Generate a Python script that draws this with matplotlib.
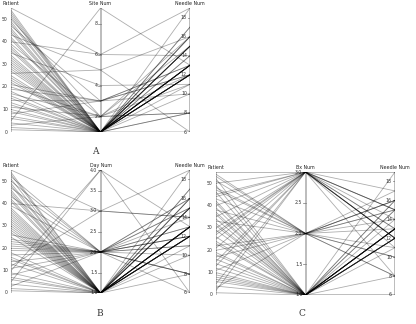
import matplotlib.pyplot as plt

# patient level values
patient = [1, 2, 3, 4, 5, 6, 7, 8, 9, 10, 11, 12, 13, 14, 15, 16, 17, 18, 19, 20,
           21, 22, 23, 24, 25, 26, 27, 28, 29, 30, 31, 32, 33, 34, 35, 36, 37, 38, 39, 40,
           41, 42, 43, 44, 45, 46, 47, 48, 49, 50, 51, 52, 53, 54, 55]
site_num = [1, 1, 2, 1, 9, 1, 1, 3, 1, 1, 2, 1, 1, 3, 1, 1, 2, 1, 3, 2,
            3, 1, 1, 1, 1, 5, 1, 1, 1, 1, 1, 1, 1, 1, 4, 1, 1, 1, 2, 6,
            1, 1, 5, 1, 1, 1, 3, 1, 1, 2, 1, 1, 1, 1, 6]
day_num = [1, 1, 2, 1, 4, 1, 1, 2, 1, 4, 2, 3, 1, 2, 1, 1, 2, 1, 2, 2,
           2, 2, 2, 2, 1, 2, 1, 1, 1, 1, 1, 1, 1, 1, 1, 1, 1, 1, 2, 3,
           1, 1, 2, 1, 1, 1, 2, 1, 1, 2, 1, 2, 1, 1, 3]
bx_num = [1, 3, 2, 1, 3, 1, 1, 1, 1, 1, 2, 1, 3, 1, 3, 1, 2, 1, 1, 2,
          3, 2, 1, 1, 3, 1, 3, 3, 1, 3, 1, 1, 2, 1, 3, 1, 1, 2, 1, 3,
          1, 1, 2, 3, 3, 1, 2, 2, 1, 3, 2, 1, 2, 2, 3]
needle_num = [13, 12, 15, 13, 13, 12, 16, 12, 13, 6, 8, 14, 12, 13, 15, 13, 11, 12, 13, 16,
              12, 14, 8, 15, 12, 6, 13, 17, 12, 15, 13, 16, 10, 12, 11, 13, 15, 8, 12, 14,
              19, 13, 16, 12, 15, 13, 10, 16, 12, 8, 15, 11, 17, 13, 19]

patient_ticks = [0, 10, 20, 30, 40, 50]
site_ticks = [2, 4, 6, 8]
day_ticks = [1.0, 1.5, 2.0, 2.5, 3.0, 3.5, 4.0]
bx_ticks = [1.0, 1.5, 2.0, 2.5, 3.0]
needle_ticks = [6, 8, 10, 12, 14, 16, 18]

fig = plt.figure(figsize=(4.16, 3.24), dpi=100)


def panel(rect, cols, ranges, ticks, names, fmts, letter, letter_xy):
    ax = fig.add_axes(rect)
    ax.set_xlim(0, 2)
    ax.set_ylim(0, 1)
    ax.axis('off')
    norm = []
    for c, (lo, hi) in zip(cols, ranges):
        norm.append([(v - lo) / (hi - lo) for v in c])
    for i in range(len(cols[0])):
        ax.plot([0, 1, 2], [norm[0][i], norm[1][i], norm[2][i]],
                color='black', alpha=0.32, lw=0.6, zorder=3)
    for j in range(3):
        lo, hi = ranges[j]
        ax.plot([j, j], [0, 1], color='#b0b0b0', lw=1.2, zorder=1)
        for t in ticks[j]:
            y = (t - lo) / (hi - lo)
            ax.plot([j - 0.025, j], [y, y], color='#777777', lw=0.5, zorder=1)
            ax.text(j - 0.035, y, fmts[j] % t, ha='right', va='center',
                    fontsize=3.3, color='#333333', zorder=2)
        ax.text(j, 1.015, names[j], ha='center', va='bottom', fontsize=3.4,
                color='#222222')
    fig.text(letter_xy[0] / 416, 1 - letter_xy[1] / 324, letter,
             fontsize=6.5, family='DejaVu Serif', ha='center', va='center',
             color='#333333')


panel([11 / 416, 1 - 132 / 324, 179 / 416, 124 / 324],
      [patient, site_num, needle_num], [(0, 55), (1, 9), (6, 19)],
      [patient_ticks, site_ticks, needle_ticks],
      ['Patient', 'Site Num', 'Needle Num'], ['%d', '%d', '%d'],
      'A', (95, 152))

panel([11 / 416, 1 - 293 / 324, 179 / 416, 123 / 324],
      [patient, day_num, needle_num], [(0, 55), (1, 4), (6, 19)],
      [patient_ticks, day_ticks, needle_ticks],
      ['Patient', 'Day Num', 'Needle Num'], ['%d', '%.1f', '%d'],
      'B', (100, 313))

panel([216 / 416, 1 - 295 / 324, 179 / 416, 123 / 324],
      [patient, bx_num, needle_num], [(0, 55), (1, 3), (6, 19)],
      [patient_ticks, bx_ticks, needle_ticks],
      ['Patient', 'Bx Num', 'Needle Num'], ['%d', '%.1f', '%d'],
      'C', (302, 314))

fig.savefig('out.png', dpi=100)
